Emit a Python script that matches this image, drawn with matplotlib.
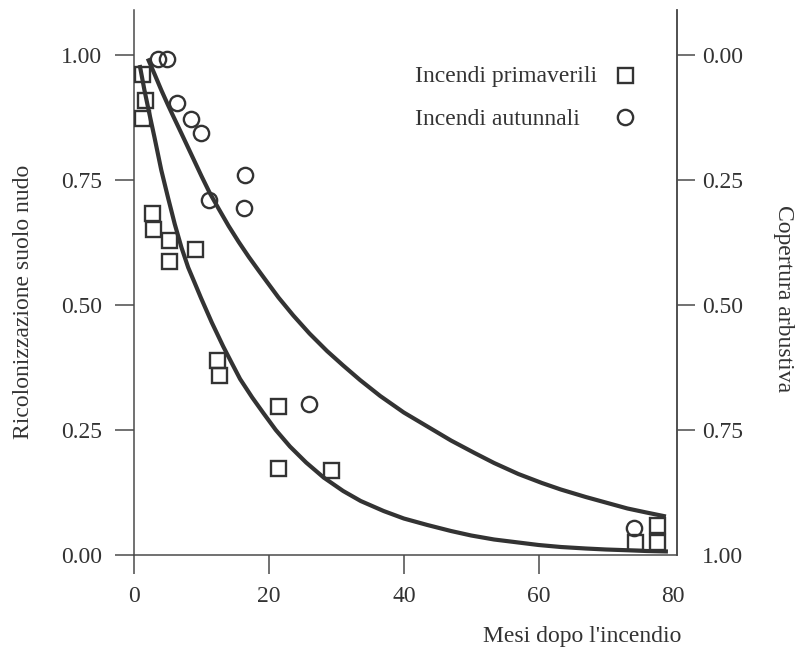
import matplotlib
matplotlib.use("Agg")
import matplotlib.pyplot as plt

# ---- data ----
spring_x = [1.2, 1.6, 1.2, 2.7, 2.8, 5.2, 5.2, 9.0, 12.3, 12.6, 21.3, 21.3, 29.2, 74.3, 77.6, 77.6]
spring_y = [0.962, 0.910, 0.874, 0.684, 0.652, 0.630, 0.589, 0.613, 0.390, 0.360, 0.299, 0.175, 0.170, 0.027, 0.027, 0.060]

autumn_x = [3.5, 4.9, 6.4, 8.4, 9.9, 16.4, 11.1, 16.3, 26.0, 74.2]
autumn_y = [0.992, 0.992, 0.905, 0.873, 0.845, 0.760, 0.711, 0.695, 0.303, 0.055]

# fitted curves
spring_fit_x = [0.8, 1.5, 2.2, 3.0, 4.0, 5.0, 6.0, 7.0, 8.0, 9.0, 9.9, 11.5, 13.2, 14.5, 15.7,
                17.5, 19.2, 21.0, 23.1, 25.5, 28.1, 31.0, 33.6, 37.0, 40.0, 43.5, 47.0, 50.0,
                53.4, 57.0, 60.0, 63.3, 67.0, 70.0, 73.2, 76.0, 79.2]
spring_fit_y = [0.980, 0.930, 0.885, 0.835, 0.770, 0.715, 0.662, 0.615, 0.575, 0.543, 0.514, 0.465,
                0.417, 0.383, 0.352, 0.315, 0.283, 0.250, 0.217, 0.185, 0.155, 0.128, 0.108, 0.088,
                0.073, 0.060, 0.048, 0.039, 0.031, 0.025, 0.020, 0.016, 0.013, 0.011, 0.0095,
                0.008, 0.007]

autumn_fit_x = [2.0, 3.0, 4.0, 5.0, 5.8, 7.0, 8.5, 10.0, 11.2, 12.5, 14.0, 15.5, 17.0, 18.5, 19.7,
                21.4, 23.6, 26.0, 28.6, 31.0, 33.5, 36.5, 40.0, 43.5, 47.0, 50.5, 53.4, 57.0,
                60.5, 63.3, 67.0, 70.5, 73.2, 76.0, 78.9]
autumn_fit_y = [0.993, 0.962, 0.930, 0.900, 0.877, 0.843, 0.800, 0.757, 0.724, 0.693, 0.658, 0.626,
                0.596, 0.568, 0.546, 0.515, 0.479, 0.443, 0.408, 0.379, 0.350, 0.318, 0.285,
                0.257, 0.229, 0.204, 0.184, 0.162, 0.144, 0.131, 0.116, 0.103, 0.093, 0.085,
                0.077]

x_ticks = [0, 20, 40, 60, 80]
left_ticks = [0.00, 0.25, 0.50, 0.75, 1.00]
right_ticks = [0.00, 0.25, 0.50, 0.75, 1.00]

legend_labels = ["Incendi primaverili", "Incendi autunnali"]
xlabel = "Mesi dopo l'incendio"
ylabel_left = "Ricolonizzazione suolo nudo"
ylabel_right = "Copertura arbustiva"

# ---- style ----
TXT = "#333333"
AX = "#4a4a4a"
LINE = "#333333"
FS = 17
plt.rcParams["font.family"] = ["Liberation Serif", "DejaVu Serif"]
plt.rcParams["font.size"] = FS

fig = plt.figure(figsize=(7.95, 6.48), dpi=100)
ax = fig.add_axes([134.3 / 795, 1 - 555 / 648, (676.7 - 134.3) / 795, 545 / 648])
ax.set_xlim(0, 80.5)
ax.set_ylim(0, 1.09)

ax.plot(spring_fit_x, spring_fit_y, color=LINE, lw=3.0, solid_capstyle="butt",
        solid_joinstyle="round", zorder=2)
ax.plot(autumn_fit_x, autumn_fit_y, color=LINE, lw=3.0, solid_capstyle="butt",
        solid_joinstyle="round", zorder=2)

ax.plot(spring_x, spring_y, linestyle="none", marker="s", markersize=10.8,
        markerfacecolor="none", markeredgecolor=LINE, markeredgewidth=1.7, zorder=3)
ax.plot(autumn_x, autumn_y, linestyle="none", marker="o", markersize=11.0,
        markerfacecolor="none", markeredgecolor=LINE, markeredgewidth=1.7, zorder=3)

# spines
ax.spines["top"].set_visible(False)
for s in ["left", "bottom", "right"]:
    ax.spines[s].set_color(AX)
    ax.spines[s].set_linewidth(1.1)

ax.set_xticks(x_ticks)
ax.set_xticklabels([str(v) for v in x_ticks])
ax.set_yticks(left_ticks)
ax.set_yticklabels([f"{v:.2f}" for v in left_ticks])
ax.tick_params(axis="x", direction="out", length=14, width=1.1, color=AX, labelcolor=TXT, pad=8, labelsize=FS)
ax.tick_params(axis="y", direction="out", length=14, width=1.1, color=AX, labelcolor=TXT, pad=9, labelsize=FS)
ax.xaxis.get_major_ticks()[-1].tick1line.set_visible(False)

# right axis: shrub cover = 1 - bare soil
ax2 = ax.twinx()
ax2.set_ylim(1.0, -0.09)
ax2.set_yticks(right_ticks)
ax2.set_yticklabels([f"{v:.2f}" for v in right_ticks])
ax2.tick_params(axis="y", direction="out", length=13, width=1.1, color=AX, labelcolor=TXT, pad=5, labelsize=FS)
ax2.yaxis.get_major_ticks()[-1].tick2line.set_visible(False)
for s in ["top", "left", "bottom"]:
    ax2.spines[s].set_visible(False)
ax2.spines["right"].set_color(AX)
ax2.spines["right"].set_linewidth(1.1)

# labels
ax.set_ylabel(ylabel_left, color=TXT, fontsize=FS)
ax.yaxis.set_label_coords(-0.205, 0.464)
ax.yaxis.label.set_va("center")
ax2.set_ylabel(ylabel_right, color=TXT, fontsize=FS, rotation=-90)
ax2.yaxis.set_label_coords(1.196, 0.47)
ax2.yaxis.label.set_va("center")
ax.set_xlabel(xlabel, color=TXT, fontsize=FS)
ax.xaxis.set_label_coords(0.825, -0.159)
ax.xaxis.label.set_va("baseline")

# legend (text left, marker right)
ax.text(0.5175, 0.8685, legend_labels[0], transform=ax.transAxes, color=TXT, fontsize=FS,
        ha="left", va="baseline")
ax.text(0.5175, 0.789, legend_labels[1], transform=ax.transAxes, color=TXT, fontsize=FS,
        ha="left", va="baseline")
ax.plot([0.9047], [0.8807], transform=ax.transAxes, marker="s", markersize=10.8,
        markerfacecolor="none", markeredgecolor=LINE, markeredgewidth=1.7, linestyle="none")
ax.plot([0.9047], [0.804], transform=ax.transAxes, marker="o", markersize=11.0,
        markerfacecolor="none", markeredgecolor=LINE, markeredgewidth=1.7, linestyle="none")

fig.savefig("out.png", dpi=100)
